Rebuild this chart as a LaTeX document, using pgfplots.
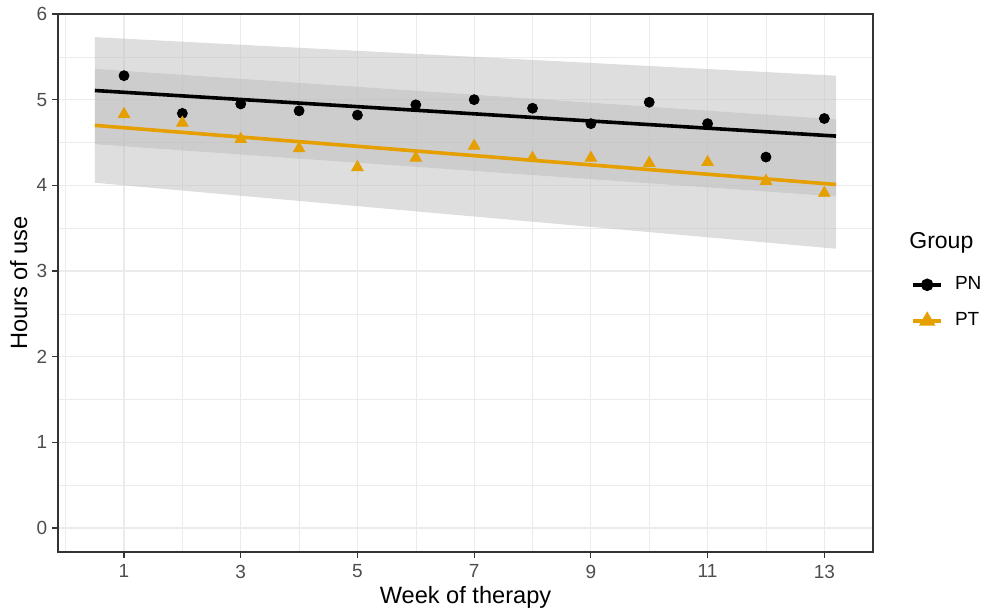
\documentclass[border=0pt]{standalone}
\usepackage{fontspec}
\setmainfont{Liberation Sans}
\usepackage{pgfplots}
\pgfplotsset{compat=1.18}
\definecolor{ptorange}{HTML}{E69F00}
\definecolor{gridc}{HTML}{EBEBEB}
\definecolor{frame}{HTML}{333333}
\definecolor{ticklab}{HTML}{4D4D4D}
\definecolor{ribbon}{RGB}{187,187,187}
\begin{document}
\begin{tikzpicture}
\useasboundingbox (-29pt,-30pt) rectangle (461.5pt,276pt);
\begin{axis}[
  scale only axis,
  width=407.5pt, height=269pt,
  xmin=-0.131, xmax=13.834,
  ymin=-0.28, ymax=6.0,
  xtick={1,3,5,7,9,11,13},
  ytick={0,1,2,3,4,5,6},
  minor xtick={0,2,4,6,8,10,12},
  minor ytick={0.5,1.5,2.5,3.5,4.5,5.5},
  grid=both,
  major grid style={gridc, line width=0.55pt},
  minor grid style={gridc, line width=0.3pt},
  axis line style={frame, line width=0.7pt},
  tick align=outside,
  major tick length=2.75pt,
  minor tick length=0pt,
  tick style={frame, line width=0.6pt},
  xtick pos=bottom, ytick pos=left,
  /pgf/number format/assume math mode=true,
  tick label style={font=\fontsize{9.5}{11}\selectfont, text=ticklab, inner sep=0pt},
  xticklabel style={anchor=north, yshift=-3.5pt},
  yticklabel style={anchor=east, xshift=-2.5pt},
  xlabel={Week of therapy},
  ylabel={Hours of use},
  label style={font=\fontsize{11.8}{14}\selectfont},
  xlabel style={at={(axis description cs:0.5,-0.0948)}, anchor=base, inner sep=0pt},
  ylabel style={at={(axis description cs:-0.038,0.5)}, anchor=base, inner sep=0pt},
  legend image code/.code={\draw[mark repeat=2,mark phase=2,#1] plot coordinates {(0pt,0pt) (7pt,0pt) (14pt,0pt)};},
  legend style={draw=none, fill=none, at={(axis description cs:1,0.516)}, anchor=north west, xshift=19pt,
    font=\fontsize{9.5}{11}\selectfont, row sep=8pt, inner sep=0pt,
    nodes={inner sep=1pt},
    /tikz/every odd column/.append style={column sep=5pt}},
  legend cell align=left,
]
% ribbons
\addplot[draw=none, fill=ribbon, fill opacity=0.48, forget plot] coordinates {(0.5,5.73) (13.2,5.28) (13.2,3.87) (0.5,4.48)};
\addplot[draw=none, fill=ribbon, fill opacity=0.48, forget plot] coordinates {(0.5,5.36) (13.2,4.77) (13.2,3.26) (0.5,4.03)};
% fitted lines
\addplot[black, line width=1.8pt, forget plot] coordinates {(0.5,5.107) (13.2,4.575)};
\addplot[ptorange, line width=1.8pt, forget plot] coordinates {(0.5,4.70) (13.2,4.01)};
% points
\addplot[only marks, mark=*, mark size=2.5pt, black, forget plot] coordinates {
(1,5.28) (2,4.84) (3,4.95) (4,4.87) (5,4.82) (6,4.94) (7,5.00) (8,4.90) (9,4.72) (10,4.97) (11,4.72) (12,4.33) (13,4.78)};
\addplot[only marks, mark=triangle*, mark size=3.3pt, ptorange, forget plot] coordinates {
(1,4.83) (2,4.73) (3,4.54) (4,4.43) (5,4.21) (6,4.32) (7,4.46) (8,4.32) (9,4.32) (10,4.26) (11,4.27) (12,4.05) (13,3.91)};
\addlegendimage{black, line width=1.8pt, mark=*, mark size=2.2pt}
\addlegendentry{PN}
\addlegendimage{ptorange, line width=1.8pt, mark=triangle*, mark size=3pt, mark options={solid}}
\addlegendentry{PT}
\end{axis}
\node[anchor=west, inner sep=0pt, font=\fontsize{11.5}{13}\selectfont] at (425.5pt,154.5pt) {Group};
\end{tikzpicture}
\end{document}
